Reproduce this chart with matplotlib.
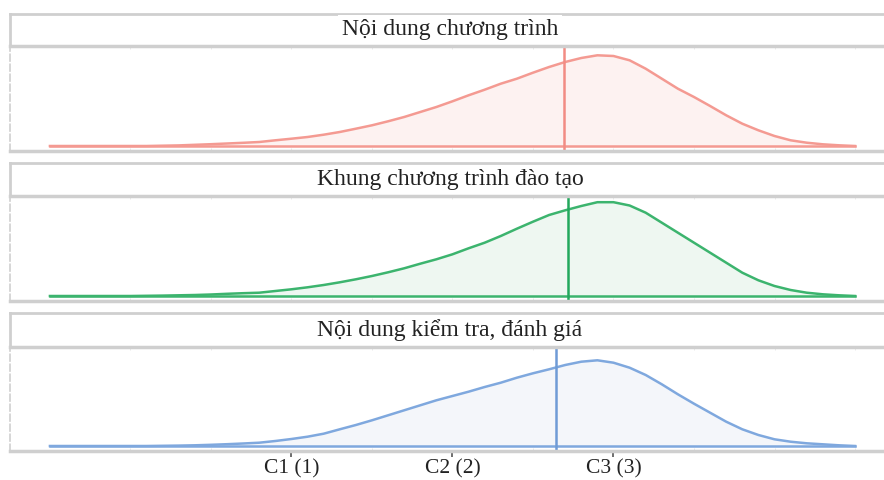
import numpy as np
import matplotlib
matplotlib.use('Agg')
import matplotlib.pyplot as plt

plt.rcParams['font.family'] = ['Liberation Serif', 'DejaVu Serif']

titles = ["Nội dung chương trình", "Khung chương trình đào tạo", "Nội dung kiểm tra, đánh giá"]
tick_pos = [1, 2, 3]
tick_labels = ["C1 (1)", "C2 (2)", "C3 (3)"]

# density curves (height above baseline, in panel pixels)
xs = [-0.5, -0.4, -0.3, -0.2, -0.1, 0.0, 0.1, 0.2, 0.3, 0.4, 0.5, 0.6, 0.7, 0.8, 0.9,
      1.0, 1.1, 1.2, 1.3, 1.4, 1.5, 1.6, 1.7, 1.8, 1.9,
      2.0, 2.1, 2.2, 2.3, 2.4, 2.5, 2.6, 2.7, 2.8, 2.9,
      3.0, 3.1, 3.2, 3.3, 3.4, 3.5, 3.6, 3.7, 3.8, 3.9,
      4.0, 4.1, 4.2, 4.3, 4.4, 4.5]
dens_nd = [0, 0, 0, 0, 0, 0, 0, 0.3, 0.6, 1.2, 1.8, 2.5, 3.2, 4.0, 5.7,
           7.3, 9.0, 11.3, 14.0, 17.3, 20.7, 24.7, 29.0, 34.0, 39.0,
           44.7, 50.7, 56.3, 62.3, 67.3, 73.3, 79.0, 84.0, 88.0, 90.7,
           90.0, 85.7, 77.3, 67.3, 57.3, 49.0, 40.0, 30.7, 22.3, 15.7,
           10.0, 5.7, 3.3, 1.7, 0.7, 0]
dens_kh = [0, 0, 0, 0, 0, 0, 0.2, 0.4, 0.7, 1.0, 1.5, 2.2, 2.8, 3.3, 5.0,
           6.7, 8.7, 11.0, 13.7, 16.7, 20.0, 23.7, 27.7, 32.3, 36.7,
           41.7, 47.7, 53.3, 60.0, 67.3, 74.3, 81.0, 85.7, 90.0, 93.8,
           93.8, 90.5, 83.3, 73.3, 63.3, 53.3, 43.3, 33.3, 23.3, 15.7,
           10.0, 6.0, 3.3, 1.7, 0.7, 0]
dens_kt = [0, 0, 0, 0, 0, 0, 0, 0.2, 0.4, 0.7, 1.2, 1.8, 2.5, 3.3, 5.0,
           7.0, 9.3, 12.3, 16.7, 21.0, 25.7, 30.7, 35.7, 40.7, 45.7,
           50.0, 54.3, 59.0, 63.3, 68.3, 72.7, 76.7, 81.0, 84.3, 85.7,
           83.3, 78.3, 71.0, 61.7, 51.7, 42.3, 33.3, 24.3, 16.7, 11.0,
           6.7, 4.3, 2.7, 1.7, 0.7, 0]
means = [2.69, 2.72, 2.64]

line_cols = ["#f49a92", "#3cb46e", "#7fa8de"]
fill_cols = ["#fdf2f1", "#eef7f1", "#f4f6fa"]
vline_cols = ["#f28c84", "#22a85c", "#6f9bd6"]
series = [dens_nd, dens_kh, dens_kt]

W, H = 884, 480
fig = plt.figure(figsize=(W / 100, H / 100), dpi=100)

# pixel layout: (strip top, strip bottom, panel bottom)
rows = [(14, 46, 151), (163, 196, 301), (313, 347, 451)]
left = 10
grey = "#cfcfcf"

for i, (st, sb, pb) in enumerate(rows):
    # strip
    sax = fig.add_axes([left / W, 1 - sb / H, (W - left) / W, (sb - st) / H])
    sax.set_xticks([])
    sax.set_yticks([])
    for s in sax.spines.values():
        s.set_color(grey)
        s.set_linewidth(2)
    sax.spines['right'].set_visible(False)
    sax.text((450 - left) / (W - left), 11 / (sb - st), titles[i],
             ha='center', va='baseline', fontsize=17, color='#222222',
             transform=sax.transAxes,
             bbox=dict(facecolor='white', edgecolor='none', pad=3))

    # panel
    ax = fig.add_axes([left / W, 1 - pb / H, (W - left) / W, (pb - sb) / H])
    y = series[i]
    ax.fill_between(xs, 0, y, color=fill_cols[i], lw=0)
    ax.plot(xs, y, color=line_cols[i], lw=1.8, solid_joinstyle='round')
    ax.plot([xs[0], xs[-1]], [0, 0], color=line_cols[i], lw=1.8)
    ax.axvline(means[i], color=vline_cols[i], lw=1.8)
    ax.set_xlim(-0.748, 4.68)
    ax.set_ylim(-5, pb - sb - 5)
    ax.set_yticks([])
    ax.spines['right'].set_visible(False)
    for k in ['top', 'bottom']:
        ax.spines[k].set_color(grey)
        ax.spines[k].set_linewidth(2.5)
    ax.spines['left'].set_color(grey)
    ax.spines['left'].set_linewidth(1.2)
    ax.spines['left'].set_linestyle((0, (4, 2)))
    ax.set_xticks(np.arange(0, 5, 0.5), minor=True)
    ax.tick_params(axis='x', which='minor', length=2, color='#e6e6e6',
                   direction='in', top=True)
    if i == 2:
        ax.set_xticks(tick_pos)
        ax.set_xticklabels(tick_labels, fontsize=15.5, color='#222222')
        ax.tick_params(axis='x', which='major', length=4, width=1.2,
                       color='#555555', pad=2)
    else:
        ax.set_xticks([])

fig.savefig("out.png", dpi=100)
plt.close(fig)
